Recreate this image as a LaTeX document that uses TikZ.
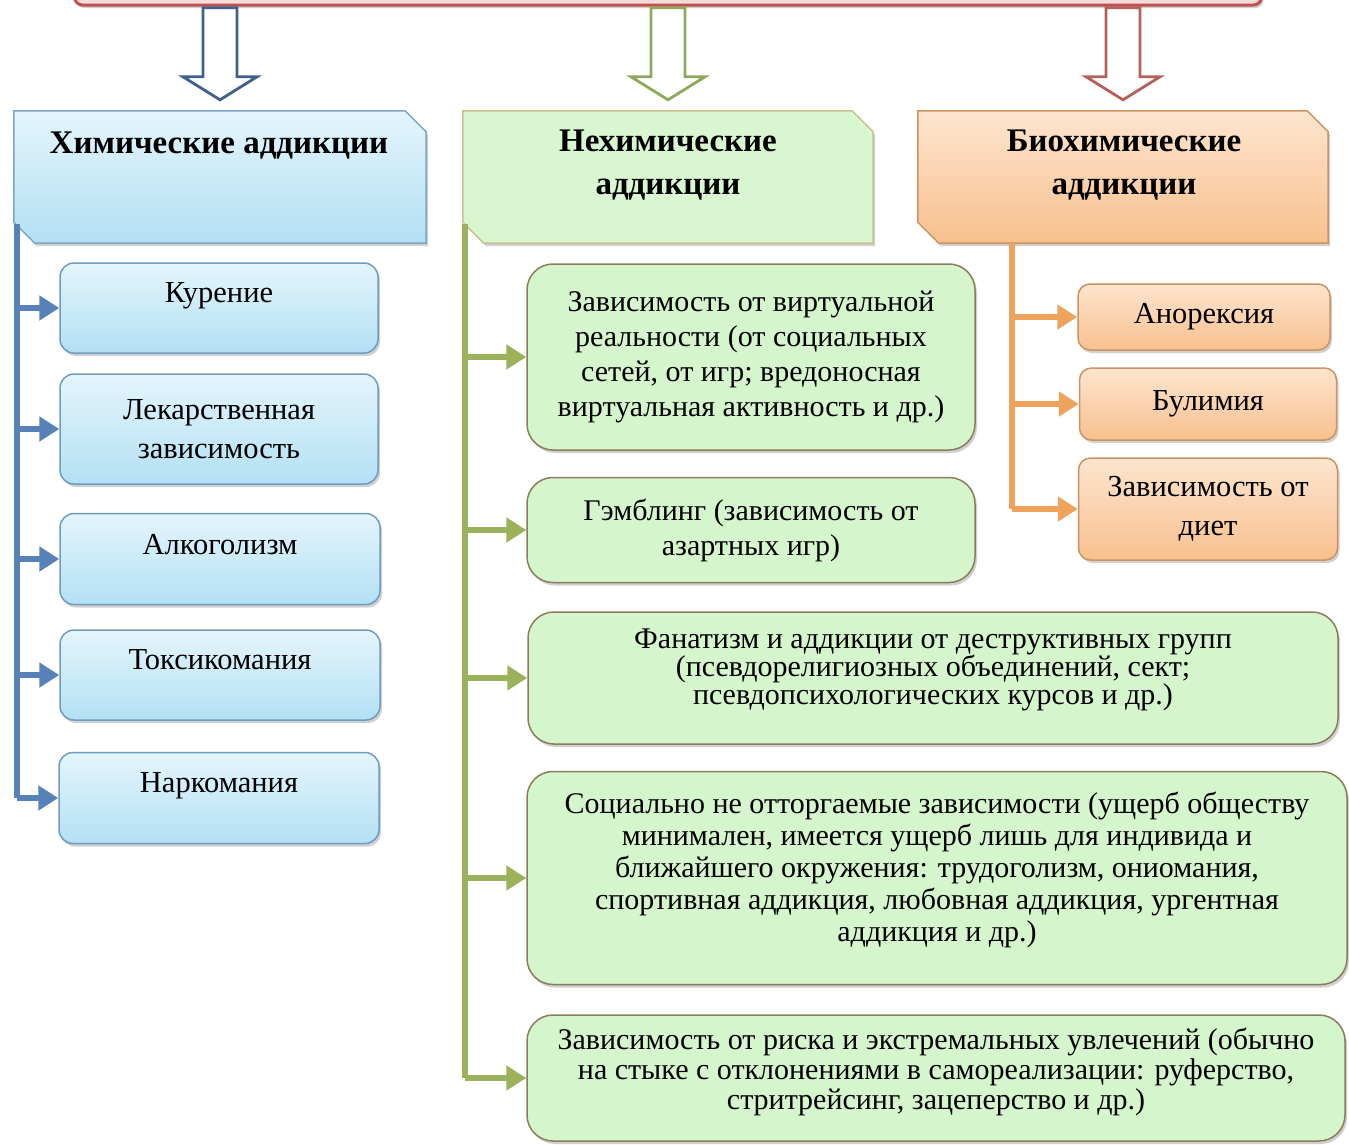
\documentclass[tikz,border=0pt]{standalone}
\usepackage{fontspec}
\setmainfont{Liberation Serif}
\usetikzlibrary{arrows.meta,shadows,calc,backgrounds}
\definecolor{bbord}{HTML}{6F9CC0}
\definecolor{btop}{HTML}{E4F5FC}
\definecolor{bbot}{HTML}{B3E0F4}
\definecolor{bline}{HTML}{5682B7}
\definecolor{bhollow}{HTML}{3F5F8C}
\definecolor{gfill}{HTML}{D5F5CD}
\definecolor{ghfill}{HTML}{D8F6D0}
\definecolor{gbord}{HTML}{8C7C5A}
\definecolor{ghbord}{HTML}{C9BF8F}
\definecolor{gline}{HTML}{9BB25A}
\definecolor{ghollow}{HTML}{8FA85A}
\definecolor{otop}{HTML}{FDE5CF}
\definecolor{obot}{HTML}{F8C08E}
\definecolor{obord}{HTML}{CC9262}
\definecolor{oline}{HTML}{EEA35D}
\definecolor{rhollow}{HTML}{B5605B}
\definecolor{topfill}{HTML}{F5DCDB}
\definecolor{topbord}{HTML}{C0504D}
\tikzset{
  shad/.style={drop shadow={shadow xshift=2pt, shadow yshift=-3pt, opacity=.3, fill=black!60}},
  txt/.style={font=\fontsize{30.5}{39}\selectfont, align=center, inner sep=3pt},
  htxt/.style={font=\fontsize{33}{43}\selectfont\bfseries, align=center, inner sep=2pt},
  bbox/.style={txt, draw=bbord, line width=1.5pt, rounded corners=14pt, top color=btop, bottom color=bbot, shad},
  gbox/.style={txt, draw=gbord, line width=1.5pt, rounded corners=26pt, fill=gfill, shad},
  obox/.style={txt, draw=obord, line width=1.5pt, rounded corners=12pt, top color=otop, bottom color=obot, shad},
  up/.style={text depth=30pt},
  conn/.style={line width=5.5pt, -{Triangle[length=20pt,width=24pt]}},
  vline/.style={line width=5.5pt},
  hollow/.style={line width=2.8pt, fill=white, line join=miter},
  hframe/.style={line width=1.5pt, shad},
}
\begin{document}
\begin{tikzpicture}[x=1pt,y=-1pt]
\clip (0,0) rectangle (1349,1144);

% top bar
\node[draw=topbord, fill=topfill, line width=3pt, rounded corners=8pt, minimum width=1187, minimum height=60, shad] (top) at (668,-25) {};

% header boxes (frames drawn on background)
\node[minimum width=412, minimum height=132, inner sep=0] (h1) at (220,177) {};
\node[minimum width=410, minimum height=132, inner sep=0] (h2) at (668,177) {};
\node[minimum width=410, minimum height=132, inner sep=0] (h3) at (1123,177) {};
\node[htxt] (h1t) at (219,146) {Химические аддикции};
\node[htxt] (h2t) at (668,165) {Нехимические\\аддикции};
\node[htxt] (h3t) at (1124,165) {Биохимические\\аддикции};

\begin{scope}[on background layer]
\fill[white] (0,0) rectangle (1349,1144);
\path[hframe, draw=bbord!90, top color=btop, bottom color=bbot]
  (h1.north west) -- ($(h1.north east)+(-21,0)$) -- ($(h1.north east)+(0,21)$) -- (h1.south east)
  -- ($(h1.south west)+(21,0)$) -- ($(h1.south west)+(0,-21)$) -- cycle;
\path[hframe, draw=ghbord, fill=ghfill]
  (h2.north west) -- ($(h2.north east)+(-21,0)$) -- ($(h2.north east)+(0,21)$) -- (h2.south east)
  -- ($(h2.south west)+(21,0)$) -- ($(h2.south west)+(0,-21)$) -- cycle;
\path[hframe, draw=obord, top color=otop, bottom color=obot]
  (h3.north west) -- ($(h3.north east)+(-21,0)$) -- ($(h3.north east)+(0,21)$) -- (h3.south east)
  -- ($(h3.south west)+(21,0)$) -- ($(h3.south west)+(0,-21)$) -- cycle;
\end{scope}

% hollow arrows from top bar to headers
\foreach \h/\c in {h1/bhollow, h2/ghollow, h3/rhollow}{
  \draw[hollow, draw=\c]
    ($(\h.north)+(-17,-103)$) -- ($(\h.north)+(17,-103)$) -- ($(\h.north)+(17,-34)$)
    -- ($(\h.north)+(37,-34)$) -- ($(\h.north)+(0,-11)$) -- ($(\h.north)+(-37,-34)$)
    -- ($(\h.north)+(-17,-34)$) -- cycle;
}

% blue children
\node[bbox, up, minimum width=318, minimum height=90] (k1) at (219,308) {Курение};
\node[bbox, minimum width=318, minimum height=110] (k2) at (219,429) {Лекарственная\\зависимость};
\node[bbox, up, minimum width=320, minimum height=91] (k3) at (220,559) {Алкоголизм};
\node[bbox, up, minimum width=320, minimum height=90] (k4) at (220,675) {Токсикомания};
\node[bbox, up, minimum width=320, minimum height=91] (k5) at (219,798) {Наркомания};

% green children
\node[gbox, font=\fontsize{30}{35}\selectfont, minimum width=448, minimum height=186] (g1) at (751,357) {Зависимость от виртуальной\\реальности (от социальных\\сетей, от игр; вредоносная\\виртуальная активность и др.)};
\node[gbox, font=\fontsize{30}{35}\selectfont, minimum width=448, minimum height=105] (g2) at (751,530) {Гэмблинг (зависимость от\\азартных игр)};
\node[gbox, font=\fontsize{30}{28}\selectfont, text depth=22pt, minimum width=810, minimum height=132] (g3) at (933,678) {Фанатизм и аддикции от деструктивных групп\\(псевдорелигиозных объединений, сект;\\псевдопсихологических курсов и др.)};
\node[gbox, font=\fontsize{30}{32}\selectfont, text depth=22pt, minimum width=820, minimum height=213] (g4) at (937,878) {Социально не отторгаемые зависимости (ущерб обществу\\минимален, имеется ущерб лишь для индивида и\\ближайшего окружения: трудоголизм, ониомания,\\спортивная аддикция, любовная аддикция, ургентная\\аддикция и др.)};
\node[gbox, font=\fontsize{30}{30}\selectfont, text depth=18pt, minimum width=818, minimum height=126] (g5) at (936,1078) {Зависимость от риска и экстремальных увлечений (обычно\\на стыке с отклонениями в самореализации: руферство,\\стритрейсинг, зацеперство и др.)};

% orange children
\node[obox, minimum width=252, minimum height=66] (o1) at (1204,317) {Анорексия};
\node[obox, minimum width=257, minimum height=72] (o2) at (1208,404) {Булимия};
\node[obox, minimum width=259, minimum height=102] (o3) at (1208,509) {Зависимость от\\диет};

% blue connectors
\coordinate (bt) at (17,224);
\draw[vline, bline] (bt) -- (bt |- k5.west);
\foreach \k in {k1,k2,k3,k4,k5}{
  \draw[conn, bline] (bt |- \k.west) -- (\k.west);
}
% green connectors
\coordinate (gt) at (465,224);
\draw[vline, gline] (gt) -- (gt |- g5.west);
\foreach \g in {g1,g2,g3,g4,g5}{
  \draw[conn, gline] (gt |- \g.west) -- (\g.west);
}
% orange connectors
\coordinate (ot) at (h3.south -| 1012,0);
\draw[vline, oline] (ot) -- (ot |- o3.west);
\foreach \o in {o1,o2,o3}{
  \draw[conn, oline] (ot |- \o.west) -- (\o.west);
}
\end{tikzpicture}
\end{document}
